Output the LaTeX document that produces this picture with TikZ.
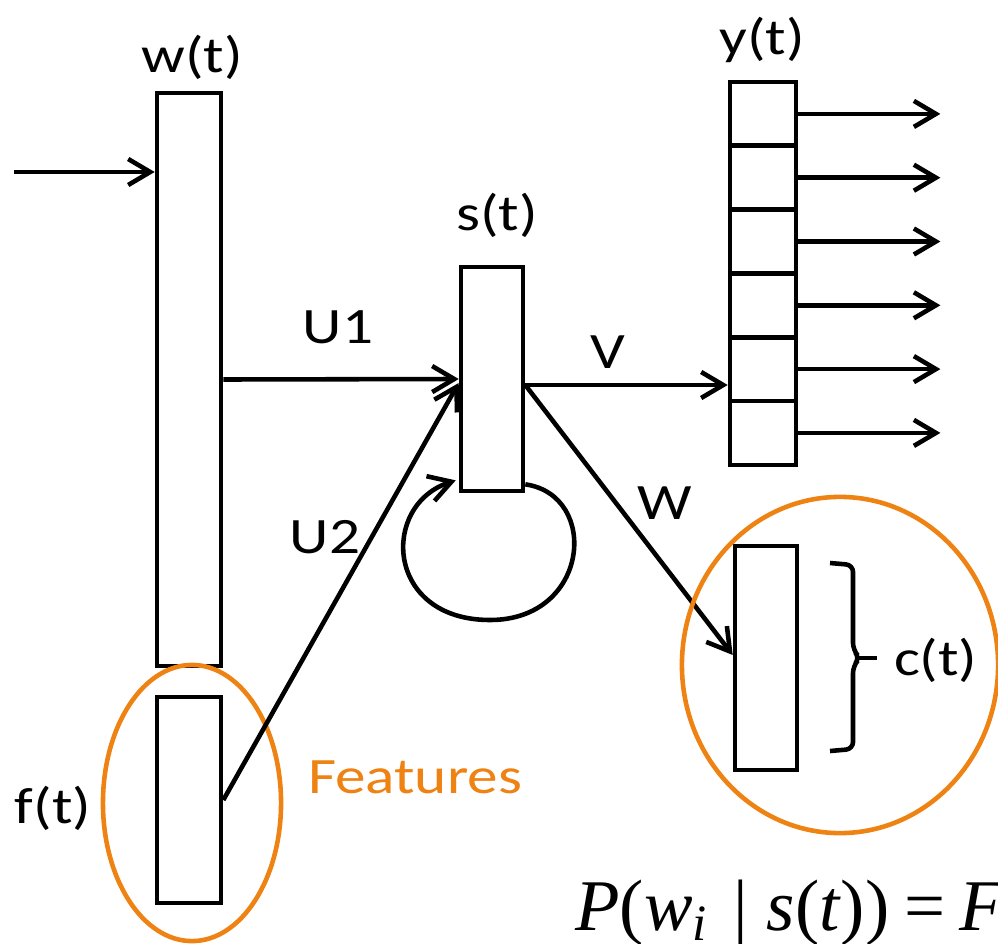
\documentclass[tikz,border=0pt]{standalone}
\usepackage{fontspec}
\setmainfont{Carlito}
\newfontfamily\labelfont[FakeStretch=1.2]{Carlito}
\newfontfamily\formulafont{Liberation Serif}
\usetikzlibrary{arrows.meta}
\definecolor{featorange}{RGB}{238,130,18}

\begin{document}
\begin{tikzpicture}[x=0.01cm,y=-0.01cm,line width=1.3pt,
  layer/.style={draw,rectangle,inner sep=0pt,minimum width=0.64cm},
  arr/.style={-{Straight Barb[length=2.2mm,width=2.6mm]}},
  lbl/.style={font=\labelfont\fontsize{14.5}{17}\selectfont}]
\useasboundingbox (0,0) rectangle (998,943);
\clip (0,0) rectangle (998,943);

% input layer and features
\node[layer,minimum height=5.73cm] (w) at (189,379.5) {};
\node[lbl] (wlbl) at (192,57) {w(t)};
\node[layer,minimum height=2.06cm] (f) at (189,800) {};
\node[lbl] (flbl) at (53,808) {f(t)};
\draw[featorange] (192,803) ellipse [x radius=0.89cm,y radius=1.38cm];
\node[lbl,text=featorange] (feat) at (415,777) {Features};
\coordinate (in) at (14,172);
\draw[arr] (in) -- (in -| w.west);

% hidden layer
\node[layer,minimum width=0.62cm,minimum height=2.24cm] (s) at (492,379) {};
\node[lbl] (slbl) at (497,215) {s(t)};
\draw[arr] (w.east) -- (s.west);
\draw[arr] (f.east) -- ([yshift=-0.04cm]s.west);
\draw[arr] ([yshift=0.09cm]s.south east) .. controls (600,495) and (590,620) .. (490,620)
  .. controls (385,620) and (380,505) .. ([xshift=-0.03cm,yshift=0.13cm]s.south west);
\node[lbl] (u1) at (338,327) {U1};
\node[lbl] (u2) at (325,537) {U2};

% output layer
\foreach \i in {1,...,6}{
  \node[layer,minimum width=0.66cm,minimum height=0.638cm] (y\i) at (763,{50.1+63.8*\i}) {};
  \coordinate (out\i) at ([xshift=1.42cm]y\i.east);
  \draw[arr] (y\i.east) -- (out\i);
}
\node[lbl] (ylbl) at (762,40) {y(t)};
\draw[arr] ([yshift=-0.06cm]s.east) -- ([yshift=-0.06cm]s.east -| y5.west);
\node[lbl] (v) at (608,352) {V};

% class layer
\node[layer,minimum width=0.62cm,minimum height=2.24cm] (c) at (766,658) {};
\draw[arr] ([yshift=-0.06cm]s.east) -- ([yshift=0.03cm]c.west);
\node[lbl] (wl) at (665,503) {W};
\draw[rounded corners=0.07cm] (830,563) -- (853,565) -- (853,650) -- (860,658) -- (853,666) -- (853,749) -- (830,751);
\draw (858,658) -- (877,658);
\node[lbl,anchor=west] (clbl) at (880,660) {c(t)};
\draw[featorange] (840,665) ellipse [x radius=1.58cm,y radius=1.68cm];

\node[anchor=base west,inner sep=0pt,font=\formulafont\fontsize{20.7}{24}\selectfont] (prob) at (573,930)
  {\textit{P}(\textit{w}\textsubscript{\textit{i}}\hspace{0.35em}|\hspace{0.25em}\textit{s}(\textit{t}))\hspace{0.2em}=\hspace{0.2em}\textit{F}};
\end{tikzpicture}
\end{document}
